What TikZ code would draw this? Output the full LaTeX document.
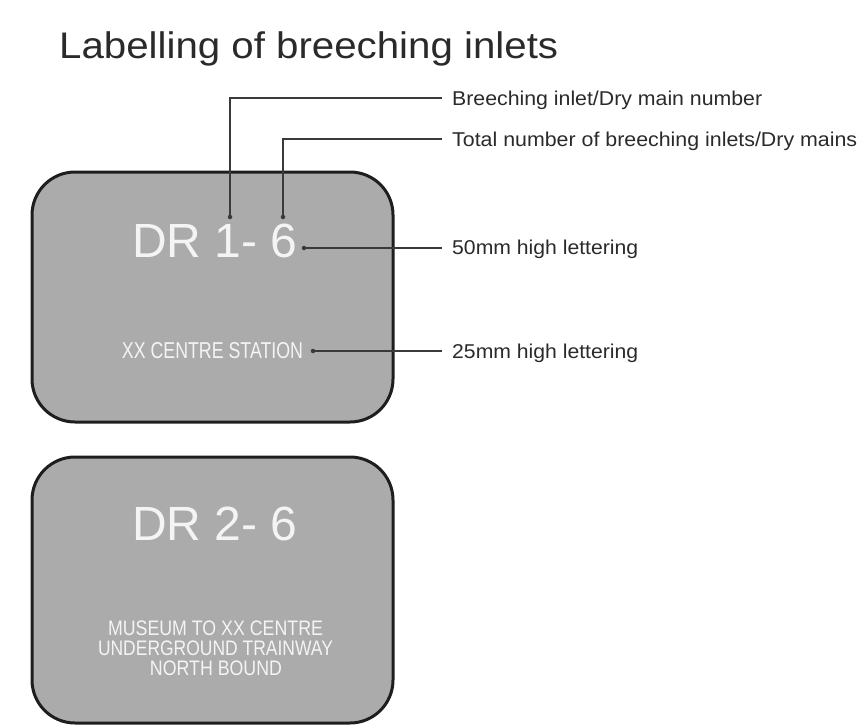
\documentclass[tikz,border=0pt]{standalone}
\usepackage{fontspec}
\setmainfont{Liberation Sans}
\usepackage{graphicx}
\newcommand{\sqz}[2]{\resizebox{#1}{\height}{#2}}
\definecolor{platefill}{HTML}{ABABAB}
\definecolor{plateedge}{HTML}{1E1E1E}
\definecolor{leadcol}{HTML}{3A3A3A}
\definecolor{labtext}{HTML}{2A2A2A}
\definecolor{signtext}{HTML}{F4F4F4}
\tikzset{
  plate/.style={draw=plateedge, fill=platefill, line width=3pt, rounded corners=43pt, inner sep=0pt, minimum width=361pt},
  bigsign/.style={anchor=base, inner sep=0pt, text=signtext, font=\fontsize{48}{48}\selectfont},
  smallsign/.style={anchor=base, inner sep=0pt, text=signtext, font=\fontsize{23}{23}\selectfont},
  multisign/.style={anchor=base, inner sep=0pt, text=signtext, font=\fontsize{21}{21}\selectfont},
  lab/.style={anchor=base west, inner sep=0pt, text=labtext, font=\fontsize{20}{20}\selectfont},
  leader/.style={draw=leadcol, line width=1.3pt},
  leaddot/.style={circle, fill=leadcol, inner sep=0pt, minimum size=4.5pt}
}
\begin{document}
\begin{tikzpicture}[x=1pt,y=-1pt]
\useasboundingbox (0,0) rectangle (859,725);
% title
\node[anchor=base west, inner sep=0pt, text=labtext, font=\fontsize{37}{37}\selectfont] (title) at (59,59) {\sqz{499pt}{Labelling of breeching inlets}};
% plates
\node[plate, minimum height=250pt] (b1) at (212.5,297) {};
\node[plate, minimum height=266pt] (b2) at (212.5,590) {};
% plate texts
\node[bigsign] (t1) at (215,257) {DR 1- 6};
\node[smallsign] (s1) at (212.5,358) {\sqz{181pt}{XX CENTRE STATION}};
\node[bigsign] (t2) at (215,540) {DR 2- 6};
\node[multisign] (m1) at (215.5,635) {\sqz{215pt}{MUSEUM TO XX CENTRE}};
\node[multisign] (m2) at (215.5,655) {\sqz{235pt}{UNDERGROUND TRAINWAY}};
\node[multisign] (m3) at (216,675) {\sqz{132pt}{NORTH BOUND}};
% labels
\node[lab] (l1) at (452,105.5) {\sqz{310pt}{Breeching inlet/Dry main number}};
\node[lab] (l2) at (452,146.5) {\sqz{405pt}{Total number of breeching inlets/Dry mains}};
\node[lab] (l3) at (452,254.5) {\sqz{186pt}{50mm high lettering}};
\node[lab] (l4) at (452,358.5) {\sqz{186pt}{25mm high lettering}};
% leader points
\node[leaddot] (d1) at (230,217) {};
\node[leaddot] (d2) at (283,217) {};
\node[leaddot] (d3) at (304,248) {};
\node[leaddot] (d4) at (313,351) {};
\coordinate (e1) at (442,98);
\coordinate (e2) at (442,139);
\coordinate (e3) at (442,248);
\coordinate (e4) at (442,351);
\draw[leader] (d1.center) |- (e1);
\draw[leader] (d2.center) |- (e2);
\draw[leader] (d3.center) -- (e3);
\draw[leader] (d4.center) -- (e4);
\end{tikzpicture}
\end{document}
